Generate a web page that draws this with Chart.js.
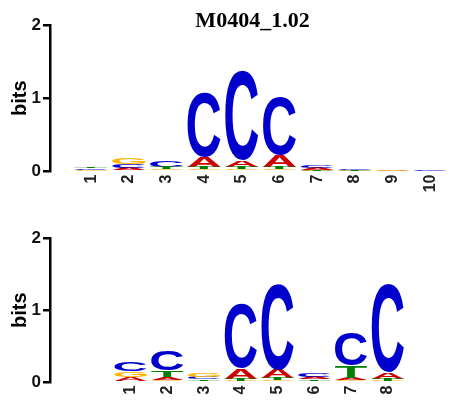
<!DOCTYPE html>
<html>
<head>
<meta charset="utf-8">
<script src="https://cdn.jsdelivr.net/npm/chart.js@4.4.1/dist/chart.umd.min.js"></script>
<style>
  body { margin: 0; background: #fff; }
  .logo { position: absolute; left: 0; width: 459px; }
  #topBox { top: 0; height: 200px; }
  #bottomBox { top: 200px; height: 201px; }
</style>
</head>
<body>
<div class="logo" id="topBox"><canvas id="topLogo"></canvas></div>
<div class="logo" id="bottomBox"><canvas id="bottomLogo"></canvas></div>
<script>
const motifName = 'M0404_1.02';
const bases = ['A', 'C', 'G', 'T'];
const baseColors = ['#cc0000', '#0000cc', '#ffb300', '#008000'];
const bitTicks = [0, 1, 2];

// top logo, information (bits) per letter
const topLabels = ['1', '2', '3', '4', '5', '6', '7', '8', '9', '10'];
const topA = [0.012, 0.030, 0.015, 0.140, 0.080, 0.160, 0.025, 0.004, 0.002, 0.002];
const topC = [0.015, 0.050, 0.080, 0.885, 1.230, 0.790, 0.026, 0.014, 0.002, 0.001];
const topG = [0.014, 0.080, 0.020, 0.030, 0.033, 0.032, 0.015, 0.008, 0.008, 0.006];
const topT = [0.020, 0.015, 0.030, 0.032, 0.035, 0.035, 0.010, 0.003, 0.002, 0.001];

// bottom logo
const bottomLabels = ['1', '2', '3', '4', '5', '6', '7', '8'];
const bottomA = [0.055, 0.040, 0.020, 0.140, 0.115, 0.030, 0.035, 0.090];
const bottomC = [0.120, 0.280, 0.035, 0.900, 1.176, 0.046, 0.460, 1.225];
const bottomG = [0.080, 0.035, 0.060, 0.025, 0.028, 0.020, 0.030, 0.025];
const bottomT = [0.020, 0.095, 0.025, 0.030, 0.030, 0.022, 0.165, 0.028];

// stack letters per column, smallest at the bottom -> floating bars
function buildDatasets(cols) {
  const sets = bases.map((b, k) => ({
    label: b,
    data: [],
    backgroundColor: 'rgba(0,0,0,0)',
    borderWidth: 0,
    grouped: false,
    barPercentage: 0.88,
    categoryPercentage: 1,
    glyphColor: baseColors[k]
  }));
  const n = cols[0].length;
  for (let i = 0; i < n; i++) {
    const order = bases.map((b, k) => k).sort((p, q) => cols[p][i] - cols[q][i]);
    let sum = 0;
    order.forEach(k => {
      sets[k].data.push({ x: i + 1, y: [sum, sum + cols[k][i]] });
      sum += cols[k][i];
    });
  }
  return sets;
}

function drawGlyph(ctx, ch, color, left, top, w, h) {
  if (h < 0.25 || w <= 0) return;
  ctx.save();
  ctx.font = 'bold 100px "Liberation Sans", Arial, sans-serif';
  ctx.textAlign = 'left';
  ctx.textBaseline = 'alphabetic';
  const m = ctx.measureText(ch);
  const gw = m.actualBoundingBoxLeft + m.actualBoundingBoxRight;
  const gh = m.actualBoundingBoxAscent + m.actualBoundingBoxDescent;
  ctx.translate(left, top);
  ctx.scale(w / gw, h / gh);
  ctx.fillStyle = color;
  ctx.fillText(ch, m.actualBoundingBoxLeft, m.actualBoundingBoxAscent);
  ctx.restore();
}

const letterPlugin = {
  id: 'letters',
  afterDatasetsDraw(chart) {
    const ctx = chart.ctx;
    chart.data.datasets.forEach((ds, di) => {
      const meta = chart.getDatasetMeta(di);
      meta.data.forEach(bar => {
        const p = bar.getProps(['x', 'y', 'base', 'width'], true);
        const top = Math.min(p.y, p.base);
        const h = Math.abs(p.base - p.y);
        drawGlyph(ctx, ds.label, ds.glyphColor, p.x - p.width / 2, top, p.width, h);
      });
    });
    const t = chart.options.plugins.letters;
    if (t && t.title) {
      const a = chart.chartArea;
      ctx.save();
      ctx.font = 'bold 22px "Liberation Serif", "Times New Roman", serif';
      ctx.fillStyle = '#000';
      ctx.textAlign = 'center';
      ctx.textBaseline = 'alphabetic';
      ctx.fillText(t.title, (a.left + a.right) / 2 - 2, 26.5);
      ctx.restore();
    }
  }
};

function logoOptions(labels, xMin, xMax, padTop, axisHeight, titleText) {
  return {
    responsive: true,
    maintainAspectRatio: false,
    animation: false,
    events: [],
    layout: { padding: { top: padTop, right: 0, bottom: 0, left: 0 } },
    plugins: {
      legend: { display: false },
      tooltip: { enabled: false },
      title: { display: false },
      letters: { title: titleText }
    },
    scales: {
      x: {
        type: 'linear',
        min: xMin,
        max: xMax,
        afterBuildTicks: s => { s.ticks = labels.map((l, i) => ({ value: i + 1 })); },
        ticks: {
          autoSkip: false,
          minRotation: 90,
          maxRotation: 90,
          padding: 3,
          color: '#222',
          font: { family: '"Liberation Sans", Arial, sans-serif', size: 16, weight: 'bold' },
          callback: (v, i) => labels[i]
        },
        grid: { display: false, drawTicks: false },
        border: { display: false },
        afterFit: s => { s.height = axisHeight; s.paddingLeft = 0; s.paddingRight = 0; }
      },
      y: {
        min: 0,
        max: 2,
        afterBuildTicks: s => { s.ticks = bitTicks.map(v => ({ value: v })); },
        ticks: {
          padding: 2,
          color: '#111',
          font: { family: '"Liberation Sans", Arial, sans-serif', size: 17, weight: 'bold' }
        },
        grid: { drawOnChartArea: false, drawTicks: true, tickLength: 7, color: '#000', lineWidth: 2.5 },
        border: { display: true, color: '#000', width: 2.5 },
        title: {
          display: true,
          text: 'bits',
          color: '#000',
          padding: { top: 8.5, bottom: 0 },
          font: { family: '"Liberation Sans", Arial, sans-serif', size: 20, weight: 'bold' }
        },
        afterFit: s => { s.width = 50; }
      }
    }
  };
}

new Chart(document.getElementById('topLogo'), {
  type: 'bar',
  data: { datasets: buildDatasets([topA, topC, topG, topT]) },
  options: logoOptions(topLabels, 0.45, 10.22, 25, 28.5, motifName),
  plugins: [letterPlugin]
});

new Chart(document.getElementById('bottomLogo'), {
  type: 'bar',
  data: { datasets: buildDatasets([bottomA, bottomC, bottomG, bottomT]) },
  options: logoOptions(bottomLabels, -0.5, 9.24, 38, 18.5, null),
  plugins: [letterPlugin]
});
</script>
</body>
</html>
